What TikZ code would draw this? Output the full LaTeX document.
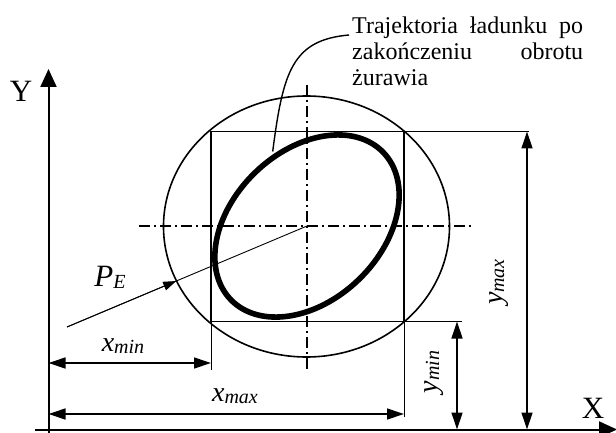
\documentclass[tikz,border=0pt]{standalone}
\usepackage{fontspec}
\setmainfont{Liberation Serif}
\usetikzlibrary{arrows.meta,calc}
\newcommand\labsub[2]{{\fontsize{28}{28}\selectfont\textit{#1}}\raisebox{-0.35ex}{\fontsize{20}{20}\selectfont\textit{#2}}}
\tikzset{
  axisline/.style={line width=2pt,-{Triangle[length=18pt,width=16pt]}},
  dimline/.style={line width=1.3pt,{Triangle[length=17pt,width=11pt]}-{Triangle[length=17pt,width=11pt]}},
  extline/.style={line width=0.9pt},
  frame/.style={line width=1.6pt},
  centerline/.style={line width=1.5pt,dash pattern=on 11pt off 4pt on 2pt off 4pt},
  lbl/.style={inner sep=0pt}
}
\begin{document}
\begin{tikzpicture}[x=1pt,y=1pt]
\useasboundingbox (0,0) rectangle (616,432);
% named points
\coordinate (O) at (307,206);
\coordinate (sqSW) at (211,110.5);
\coordinate (sqNE) at (404,300.5);
\coordinate (sqSE) at (404,110.5);
\coordinate (sqNW) at (211,300.5);
% axes
\coordinate (yb) at (48.5,-2);
\coordinate (yt) at (48.5,363);
\coordinate (xl) at (35,2.5);
\coordinate (xr) at (617,2.5);
\draw[axisline] (yb) -- (yt);
\draw[axisline] (xl) -- (xr);
\node[lbl] (Ylab) at (21,341) {\fontsize{31}{31}\selectfont Y};
\node[lbl] (Xlab) at (593,24) {\fontsize{31}{31}\selectfont X};
% circle (slightly elliptic)
\draw[frame] (306.5,205.5) ellipse [x radius=143, y radius=130.5];
% square
\draw[frame] (sqSW) rectangle (sqNE);
% center lines
\coordinate (vt) at (307,347);
\coordinate (vb) at (307,62);
\coordinate (hl) at (139,206);
\coordinate (hr) at (474,206);
\draw[centerline] (vt) -- (vb);
\draw[centerline] (hl) -- (hr);
% trajectory
\draw[line width=5.6pt] (O) ellipse [x radius=106, y radius=74.5, rotate=44];
% P_E
\coordinate (pe0) at (67,105);
\coordinate (pe1) at ($(pe0)!0.455!(O)$);
\draw[extline] (pe0) -- (O);
\draw[line width=0.9pt,-{Triangle[length=13pt,width=9pt]}] (pe0) -- (pe1);
\node[lbl] (PE) at (110,155) {{\fontsize{31}{31}\selectfont\textit{P}}\raisebox{-0.4ex}{\fontsize{20}{20}\selectfont\textit{E}}};
% leader and text
\coordinate (ld0) at (272.7,280.5);
\coordinate (ld1) at (349,397);
\draw[line width=1.4pt] (ld0) .. controls (283,360) and (292,392) .. (ld1);
\node[lbl,anchor=north west,align=left,font=\fontsize{24}{26}\selectfont] (txt) at (352,415)
  {\makebox[231pt][s]{Trajektoria ładunku po}\\
   \makebox[231pt][s]{zakończeniu obrotu}\\
   żurawia};
% xmin
\coordinate (xe1a) at (211,110.5);
\coordinate (xe1b) at (211,62);
\draw[extline] (xe1a) -- (xe1b);
\coordinate (d1a) at (48.5,69);
\coordinate (d1b) at (211,69);
\draw[dimline] (d1a) -- (d1b);
\node[lbl] (xminlab) at (123,86) {\labsub{x}{min}};
% xmax
\coordinate (xe2b) at (404,15);
\draw[extline] (sqSE) -- (xe2b);
\coordinate (d2a) at (48.5,18);
\coordinate (d2b) at (404,18);
\draw[dimline] (d2a) -- (d2b);
\node[lbl] (xmaxlab) at (235,36) {\labsub{x}{max}};
% ymin
\coordinate (ye1b) at (462,110.5);
\draw[extline] (sqSE) -- (ye1b);
\coordinate (d3a) at (457,110.5);
\coordinate (d3b) at (457,2.5);
\draw[dimline] (d3a) -- (d3b);
\node[lbl,rotate=90] (yminlab) at (434,60) {\labsub{y}{min}};
% ymax
\coordinate (ye2b) at (529,300.5);
\draw[extline] (sqNE) -- (ye2b);
\coordinate (d4a) at (527,300.5);
\coordinate (d4b) at (527,2.5);
\draw[dimline] (d4a) -- (d4b);
\node[lbl,rotate=90] (ymaxlab) at (499,150) {\labsub{y}{max}};
\end{tikzpicture}
\end{document}
